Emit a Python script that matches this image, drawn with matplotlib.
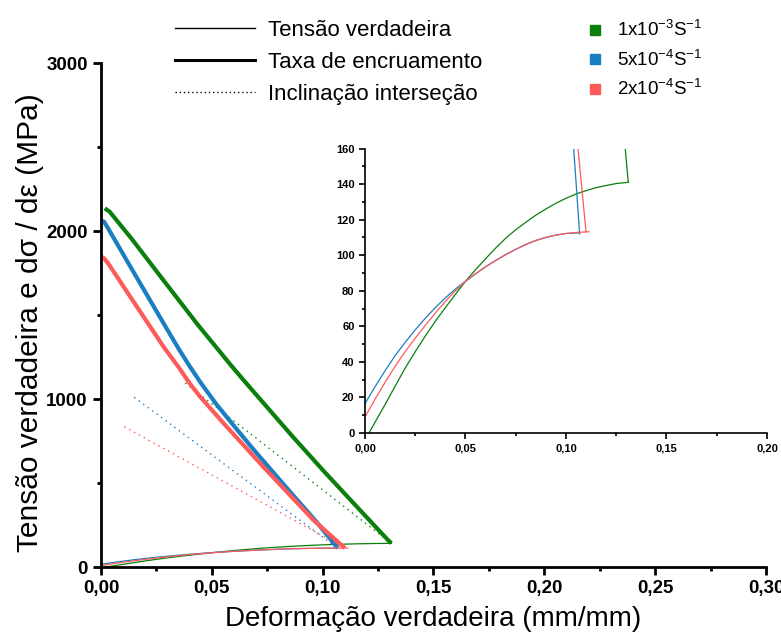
import matplotlib
matplotlib.use("Agg")
from matplotlib import pyplot as plt
from matplotlib.lines import Line2D
from matplotlib.ticker import MultipleLocator, FuncFormatter

plt.rcParams['font.family'] = ['Liberation Sans', 'DejaVu Sans']
plt.rcParams['mathtext.fontset'] = 'custom'
plt.rcParams['mathtext.rm'] = 'Liberation Sans'
plt.rcParams['mathtext.it'] = 'Liberation Sans:italic'
plt.rcParams['mathtext.bf'] = 'Liberation Sans:bold'

GREEN = '#0b7f0b'
BLUE = '#1a7fc2'
RED = '#ff5a5a'

RATE_LABELS = [r'1x10$^{\mathrm{-3}}$S$^{\mathrm{-1}}$',
               r'5x10$^{\mathrm{-4}}$S$^{\mathrm{-1}}$',
               r'2x10$^{\mathrm{-4}}$S$^{\mathrm{-1}}$']

# true stress curves (strain, MPa)
STRESS_X_G = [0.002, 0.005, 0.010, 0.015, 0.020, 0.025, 0.030, 0.035, 0.040, 0.045, 0.050, 0.055, 0.060,
              0.065, 0.070, 0.075, 0.080, 0.085, 0.090, 0.095, 0.100, 0.105, 0.110, 0.115, 0.120, 0.125, 0.131]
STRESS_Y_G = [0, 6, 16, 26.3, 36.5, 45.7, 54.5, 62.8, 70.5, 78, 85.3, 91.8, 98,
              104, 109.5, 114.3, 118.5, 122.5, 126, 129.2, 132, 134.4, 136.3, 138, 139.2, 140.3, 141]
STRESS_X_B = [0.0, 0.005, 0.010, 0.015, 0.020, 0.025, 0.030, 0.035, 0.040, 0.045, 0.050, 0.055, 0.060,
              0.065, 0.070, 0.075, 0.080, 0.085, 0.090, 0.095, 0.100, 0.1068]
STRESS_Y_B = [16.5, 26, 35, 43.5, 51, 58, 64.5, 70.5, 76, 81, 85.3, 89.5, 93.5,
              97, 100.3, 103.3, 106, 108.3, 110, 111.3, 112.2, 112.6]
STRESS_X_R = [0.0, 0.005, 0.010, 0.015, 0.020, 0.025, 0.030, 0.035, 0.040, 0.045, 0.050, 0.055, 0.060,
              0.065, 0.070, 0.075, 0.080, 0.085, 0.090, 0.095, 0.100, 0.105, 0.1114]
STRESS_Y_R = [9, 19, 28.5, 37.5, 45.8, 53.3, 60.5, 67.5, 74, 80, 85.3, 89.5, 93.5,
              97, 100.3, 103.3, 106, 108.3, 110, 111.3, 112.2, 112.8, 113.2]

# work hardening rate d(sigma)/d(eps)
HARD_X_G = [0.0017, 0.0039, 0.0137, 0.0287, 0.0438, 0.059, 0.0648, 0.0865, 0.100, 0.114, 0.1295, 0.131]
HARD_Y_G = [2135, 2115, 1956, 1698, 1440, 1195, 1105, 776, 578, 379, 160, 141]
HARD_X_B = [0.0005, 0.0014, 0.0032, 0.0137, 0.0287, 0.035, 0.040, 0.0452, 0.052, 0.060, 0.068, 0.0755,
            0.086, 0.0965, 0.1068]
HARD_Y_B = [2060, 2055, 2016, 1778, 1440, 1300, 1195, 1093, 970, 840, 712, 597,
            437, 280, 112]
HARD_X_R = [0.0005, 0.0014, 0.0032, 0.0137, 0.0287, 0.035, 0.040, 0.0447, 0.055, 0.064, 0.0732, 0.0958, 0.110]
HARD_Y_R = [1845, 1837, 1808, 1599, 1302, 1190, 1093, 1014, 860, 730, 597, 280, 113]

# intersection slope lines
SLOPE_X_G = [0.038, 0.131]
SLOPE_Y_G = [1095, 141]
SLOPE_X_B = [0.015, 0.1068]
SLOPE_Y_B = [1010, 112]
SLOPE_X_R = [0.0105, 0.110]
SLOPE_Y_R = [835, 113]

series = [
    (GREEN, STRESS_X_G, STRESS_Y_G, HARD_X_G, HARD_Y_G, SLOPE_X_G, SLOPE_Y_G),
    (BLUE, STRESS_X_B, STRESS_Y_B, HARD_X_B, HARD_Y_B, SLOPE_X_B, SLOPE_Y_B),
    (RED, STRESS_X_R, STRESS_Y_R, HARD_X_R, HARD_Y_R, SLOPE_X_R, SLOPE_Y_R),
]


def comma(fmt):
    return FuncFormatter(lambda v, p: (fmt % v).replace('.', ','))


def style_axes(ax, lw, size, big):
    ax.spines['top'].set_visible(False)
    ax.spines['right'].set_visible(False)
    ax.spines['left'].set_linewidth(lw)
    ax.spines['bottom'].set_linewidth(lw)
    ax.tick_params(which='major', direction='out', width=lw, length=6 if big else 4,
                   labelsize=size)
    ax.tick_params(which='minor', direction='out', width=lw, length=3 if big else 2)
    for t in ax.get_xticklabels() + ax.get_yticklabels():
        t.set_fontweight('bold')


fig = plt.figure(figsize=(7.81, 6.41), dpi=100)
ax = fig.add_axes([0.1293, 0.1154, 0.8515, 0.7863])

for color, sx, sy, hx, hy, lx, ly in series:
    ax.plot(sx, sy, color=color, lw=0.9)
    ax.plot(hx, hy, color=color, lw=3.0, solid_capstyle='butt', solid_joinstyle='round')
    ax.plot(lx, ly, color=color, lw=1.0, ls=(0, (1, 3)))

ax.set_xlim(0, 0.30)
ax.set_ylim(0, 3000)
ax.xaxis.set_major_locator(MultipleLocator(0.05))
ax.xaxis.set_minor_locator(MultipleLocator(0.025))
ax.yaxis.set_major_locator(MultipleLocator(1000))
ax.yaxis.set_minor_locator(MultipleLocator(500))
ax.xaxis.set_major_formatter(comma('%.2f'))
ax.set_xlabel('Deformação verdadeira (mm/mm)', fontsize=20, labelpad=6)
ax.set_ylabel('Tensão verdadeira e dσ / dε (MPa)', fontsize=21.5)
ax.yaxis.set_label_coords(-0.085, 0.485)
style_axes(ax, 2.0, 13.5, True)

# inset zoom on the true stress curves
ins = fig.add_axes([0.4673, 0.3245, 0.5147, 0.4438])
for color, sx, sy, hx, hy, lx, ly in series:
    ins.plot(sx, sy, color=color, lw=0.9)
    ins.plot(hx, hy, color=color, lw=0.9)
ins.set_xlim(0, 0.20)
ins.set_ylim(0, 160)
ins.xaxis.set_major_locator(MultipleLocator(0.05))
ins.xaxis.set_minor_locator(MultipleLocator(0.025))
ins.yaxis.set_major_locator(MultipleLocator(20))
ins.yaxis.set_minor_locator(MultipleLocator(10))
ins.xaxis.set_major_formatter(comma('%.2f'))
style_axes(ins, 1.2, 8, False)

# legends
style_handles = [Line2D([], [], color='black', lw=1.0),
                 Line2D([], [], color='black', lw=2.2),
                 Line2D([], [], color='black', lw=1.0, ls=(0, (1, 2)))]
fig.legend(style_handles, ['Tensão verdadeira', 'Taxa de encruamento', 'Inclinação interseção'],
           loc='upper left', bbox_to_anchor=(0.1985, 1.0), frameon=False, fontsize=16,
           handlelength=3.6, handletextpad=0.6, labelspacing=0.5)

rate_handles = [Line2D([], [], color=c, marker='s', ls='none', markersize=7) for c in (GREEN, BLUE, RED)]
fig.legend(rate_handles, RATE_LABELS, loc='upper left', bbox_to_anchor=(0.728, 0.995),
           frameon=False, fontsize=13.5, handlelength=1.0, handletextpad=0.7, labelspacing=0.5)

fig.savefig('out.png', dpi=100)
